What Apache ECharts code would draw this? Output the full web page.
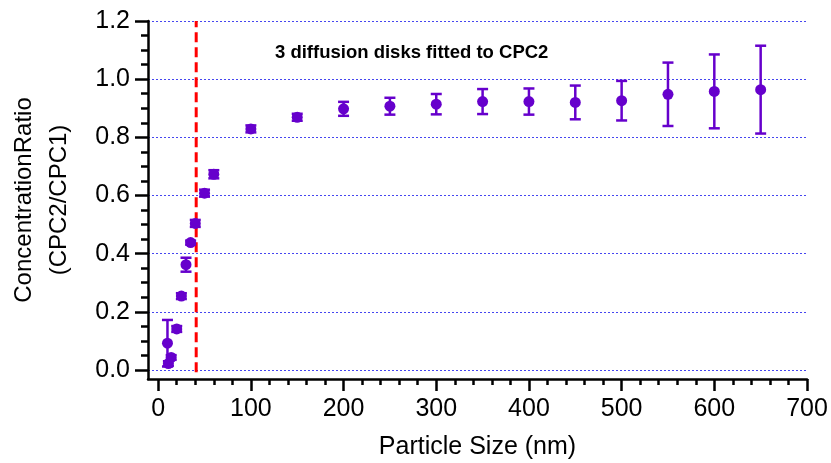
<!DOCTYPE html>
<html>
<head>
<meta charset="utf-8">
<script src="https://cdn.jsdelivr.net/npm/echarts@6/dist/echarts.min.js"></script>
<style>html,body{margin:0;padding:0;background:#fff;}#c{width:831px;height:463px;}</style>
</head>
<body>
<div id="c"></div>
<script>
// Data
const particleSize = [10, 11, 14, 20, 25, 30, 35, 40, 50, 60, 100, 150, 200, 250, 300, 350, 400, 450, 500, 550, 600, 650];
const ratio = [0.092, 0.022, 0.043, 0.141, 0.254, 0.362, 0.438, 0.504, 0.608, 0.673, 0.829, 0.869, 0.898, 0.907, 0.914, 0.923, 0.923, 0.920, 0.926, 0.948, 0.958, 0.964];
const ratioErr = [0.080, 0.008, 0.008, 0.010, 0.010, 0.024, 0.007, 0.012, 0.012, 0.014, 0.012, 0.012, 0.024, 0.029, 0.035, 0.043, 0.045, 0.058, 0.068, 0.109, 0.127, 0.151];
const dividerX = 41;
const dividerY = [-0.008, 1.2];
const xMajorTicks = [0, 100, 200, 300, 400, 500, 600, 700];
const xMinorTicks = [0,20,40,60,80,100,120,140,160,180,200,220,240,260,280,300,320,340,360,380,400,420,440,460,480,500,520,540,560,580,600,620,640,660,680,700];
const yMajorTicks = [0, 0.2, 0.4, 0.6, 0.8, 1.0, 1.2];
const yMinorTicks = [0,0.05,0.1,0.15,0.2,0.25,0.3,0.35,0.4,0.45,0.5,0.55,0.6,0.65,0.7,0.75,0.8,0.85,0.9,0.95,1.0,1.05,1.1,1.15,1.2];
const annotation = '3 diffusion disks fitted to CPC2';
const xTitle = 'Particle Size (nm)';
const yTitle = 'ConcentrationRatio\n(CPC2/CPC1)';

const FONT = '"Liberation Sans", Arial, sans-serif';
const PURPLE = '#6600cc';

const points = particleSize.map((x, i) => [x, ratio[i]]);
const errData = particleSize.map((x, i) => [x, ratio[i] - ratioErr[i], ratio[i] + ratioErr[i]]);

const chart = echarts.init(document.getElementById('c'), null, {renderer: 'canvas'});
chart.setOption({
  animation: false,
  backgroundColor: '#fff',
  title: {
    text: annotation,
    left: 270, top: 38,
    textStyle: {fontFamily: FONT, fontWeight: 'bold', fontSize: 18.5, color: '#000'}
  },
  grid: {left: 148, right: 24, top: 21, bottom: 84, containLabel: false, outerBoundsMode: 'none'},
  xAxis: [{
    type: 'value', min: -11, max: 700,
    axisLine: {show: true, onZero: false, lineStyle: {color: '#000', width: 2.5}},
    axisTick: {show: true, customValues: xMajorTicks, length: 12, lineStyle: {color: '#000', width: 2.5}},
    axisLabel: {show: true, customValues: xMajorTicks, margin: 18, fontFamily: FONT, fontSize: 25, color: '#000'},
    splitLine: {show: false},
    name: xTitle, nameLocation: 'middle', nameGap: 56,
    nameTextStyle: {fontFamily: FONT, fontSize: 25, color: '#000'}
  }, {
    type: 'value', min: -11, max: 700, position: 'bottom', offset: 0,
    axisLine: {show: false, onZero: false},
    axisTick: {show: true, customValues: xMinorTicks, length: 6, lineStyle: {color: '#000', width: 2.5}},
    axisLabel: {show: false},
    splitLine: {show: false}
  }],
  yAxis: [{
    type: 'value', min: -0.031, max: 1.2,
    axisLine: {show: true, onZero: false, lineStyle: {color: '#000', width: 2.5}},
    axisTick: {show: true, customValues: yMajorTicks, length: 13, lineStyle: {color: '#000', width: 2.5}},
    axisLabel: {show: true, customValues: yMajorTicks, margin: 18, fontFamily: FONT, fontSize: 25, color: '#000',
      formatter: v => v.toFixed(1)},
    splitLine: {show: true, lineStyle: {color: '#4646f0', width: 1, type: [2, 2]}},
    name: yTitle, nameLocation: 'middle', nameGap: 71, nameRotate: 90,
    nameTextStyle: {fontFamily: FONT, fontSize: 24, color: '#000', lineHeight: 35, align: 'center'}
  }, {
    type: 'value', min: -0.031, max: 1.2, position: 'left', offset: 0,
    axisLine: {show: false, onZero: false},
    axisTick: {show: true, customValues: yMinorTicks, length: 7, lineStyle: {color: '#000', width: 2.5}},
    axisLabel: {show: false},
    splitLine: {show: false}
  }],
  series: [{
    type: 'line',
    xAxisIndex: 0, yAxisIndex: 0,
    data: [[dividerX, dividerY[0]], [dividerX, dividerY[1]]],
    symbol: 'none',
    lineStyle: {color: '#ff0000', width: 3, type: [10, 5]},
    z: 1
  }, {
    type: 'custom',
    xAxisIndex: 0, yAxisIndex: 0,
    data: errData,
    renderItem: function (params, api) {
      const x = api.value(0);
      const lo = api.coord([x, api.value(1)]);
      const hi = api.coord([x, api.value(2)]);
      const hw = 5.5;
      const style = {stroke: PURPLE, lineWidth: 2.5, fill: null};
      return {
        type: 'group',
        children: [
          {type: 'line', shape: {x1: lo[0], y1: lo[1], x2: hi[0], y2: hi[1]}, style: style},
          {type: 'line', shape: {x1: lo[0] - hw, y1: lo[1], x2: lo[0] + hw, y2: lo[1]}, style: style},
          {type: 'line', shape: {x1: hi[0] - hw, y1: hi[1], x2: hi[0] + hw, y2: hi[1]}, style: style}
        ]
      };
    },
    z: 3
  }, {
    type: 'scatter',
    xAxisIndex: 0, yAxisIndex: 0,
    data: points,
    symbol: 'circle',
    symbolSize: 11,
    itemStyle: {color: PURPLE, opacity: 1},
    z: 4
  }]
});
</script>
</body>
</html>
